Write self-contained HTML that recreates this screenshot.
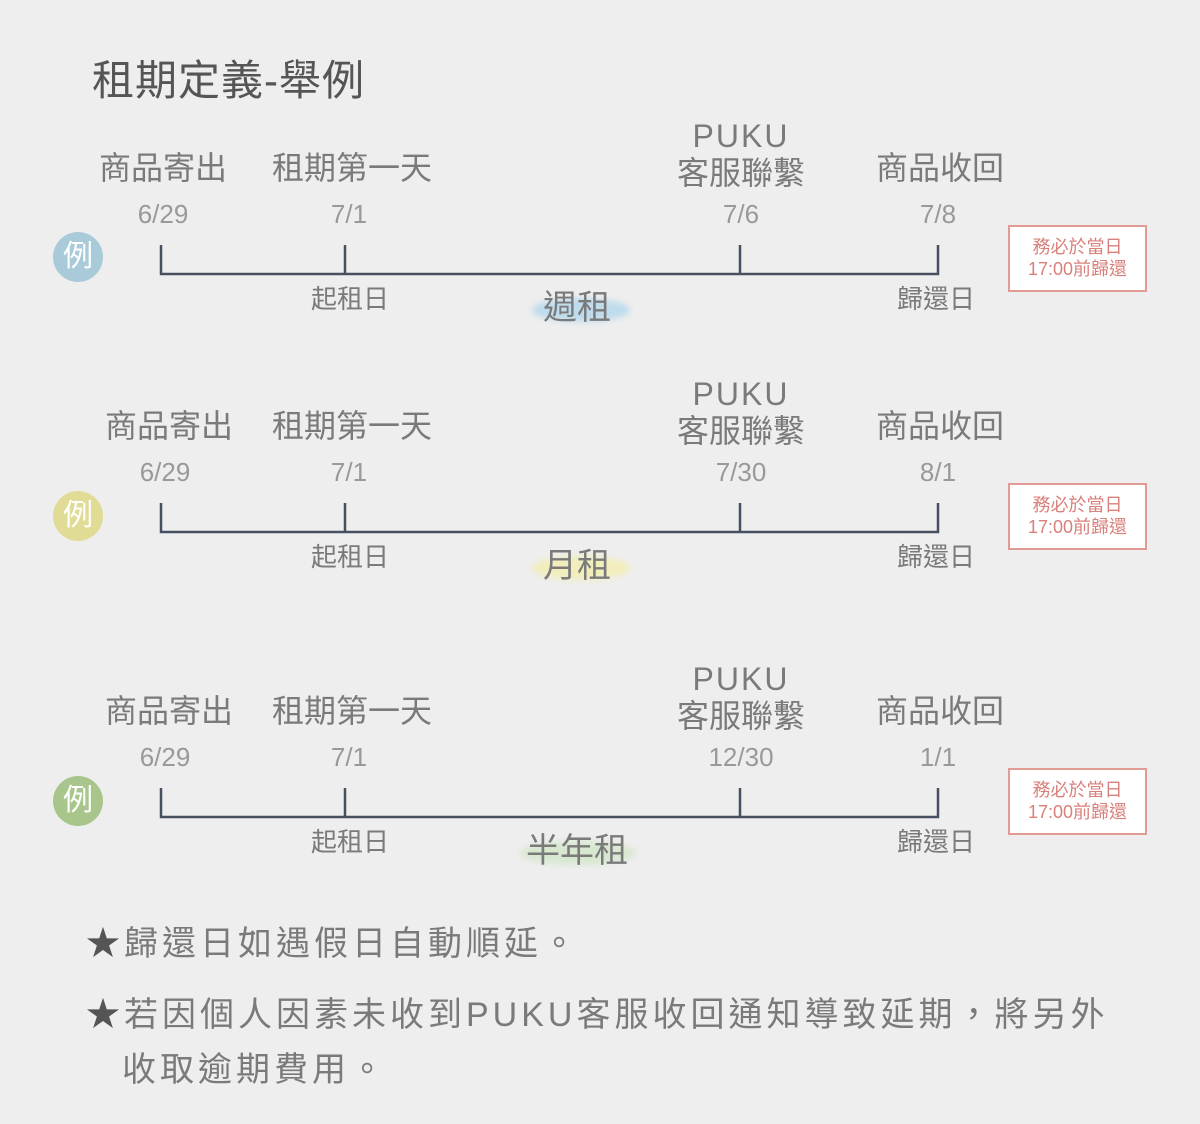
<!DOCTYPE html>
<html><head><meta charset="utf-8"><style>
body{margin:0;width:1200px;height:1124px;background:#eeeeee;position:relative;overflow:hidden;font-family:"Liberation Sans","Noto Sans CJK TC",sans-serif;color:#7a7a7a}
.t{position:absolute;white-space:nowrap;transform:translate(-50%,-50%);line-height:1}
.l{position:absolute;white-space:nowrap;line-height:1}
.c{position:absolute;width:50px;height:50px;border-radius:50%;color:#fff;font-size:30px;line-height:50px;text-align:center}
.box{position:absolute;left:1008px;width:135px;height:63px;border:2px solid #e29a95;background:#fff;color:#d9807b;font-size:18px;text-align:center;line-height:22px;box-sizing:content-box}
.box div{padding-top:9px}
.bl{position:absolute;border-radius:50%;filter:blur(3px)}
</style></head><body>
<div class="l" style="left:92px;top:60px;font-size:42px;color:#555;letter-spacing:1px">租期定義-舉例</div>

<svg width="1200" height="1124" style="position:absolute;left:0;top:0">
<g stroke="#475060" stroke-width="2.5" fill="none">
<path d="M161 245V274H938V245M345 245V274M740 245V274"/>
<path d="M161 503V532H938V503M345 503V532M740 503V532"/>
<path d="M161 788V817H938V788M345 788V817M740 788V817"/>
</g></svg>

<div class="bl" style="left:532px;top:298px;width:98px;height:24px;background:#bfdcec"></div>
<div class="bl" style="left:532px;top:556px;width:98px;height:24px;background:#f1eebc"></div>
<div class="bl" style="left:520px;top:841px;width:115px;height:24px;background:#d8e8d0"></div>

<div class="c" style="left:53px;top:232px;background:#a9cad8">例</div>
<div class="c" style="left:53px;top:491px;background:#e0dc96">例</div>
<div class="c" style="left:53px;top:776px;background:#a8c58c">例</div>

<!-- block 1 -->
<div class="t" style="left:163px;top:168px;font-size:32px">商品寄出</div>
<div class="t" style="left:352px;top:168px;font-size:32px">租期第一天</div>
<div class="t" style="left:741px;top:136px;font-size:32px;letter-spacing:2px">PUKU</div>
<div class="t" style="left:741px;top:173px;font-size:32px">客服聯繫</div>
<div class="t" style="left:940px;top:168px;font-size:32px">商品收回</div>
<div class="t" style="left:163px;top:214px;font-size:26px;color:#999">6/29</div>
<div class="t" style="left:349px;top:214px;font-size:26px;color:#999">7/1</div>
<div class="t" style="left:741px;top:214px;font-size:26px;color:#999">7/6</div>
<div class="t" style="left:938px;top:214px;font-size:26px;color:#999">7/8</div>
<div class="t" style="left:350px;top:299px;font-size:26px">起租日</div>
<div class="t" style="left:936px;top:299px;font-size:26px">歸還日</div>
<div class="t" style="left:577px;top:308px;font-size:34px">週租</div>
<div class="box" style="top:225px"><div>務必於當日<br>17:00前歸還</div></div>

<!-- block 2 -->
<div class="t" style="left:169px;top:426px;font-size:32px">商品寄出</div>
<div class="t" style="left:352px;top:426px;font-size:32px">租期第一天</div>
<div class="t" style="left:741px;top:394px;font-size:32px;letter-spacing:2px">PUKU</div>
<div class="t" style="left:741px;top:431px;font-size:32px">客服聯繫</div>
<div class="t" style="left:940px;top:426px;font-size:32px">商品收回</div>
<div class="t" style="left:165px;top:472px;font-size:26px;color:#999">6/29</div>
<div class="t" style="left:349px;top:472px;font-size:26px;color:#999">7/1</div>
<div class="t" style="left:741px;top:472px;font-size:26px;color:#999">7/30</div>
<div class="t" style="left:938px;top:472px;font-size:26px;color:#999">8/1</div>
<div class="t" style="left:350px;top:557px;font-size:26px">起租日</div>
<div class="t" style="left:936px;top:557px;font-size:26px">歸還日</div>
<div class="t" style="left:577px;top:566px;font-size:34px">月租</div>
<div class="box" style="top:483px"><div>務必於當日<br>17:00前歸還</div></div>

<!-- block 3 -->
<div class="t" style="left:169px;top:711px;font-size:32px">商品寄出</div>
<div class="t" style="left:352px;top:711px;font-size:32px">租期第一天</div>
<div class="t" style="left:741px;top:679px;font-size:32px;letter-spacing:2px">PUKU</div>
<div class="t" style="left:741px;top:716px;font-size:32px">客服聯繫</div>
<div class="t" style="left:940px;top:711px;font-size:32px">商品收回</div>
<div class="t" style="left:165px;top:757px;font-size:26px;color:#999">6/29</div>
<div class="t" style="left:349px;top:757px;font-size:26px;color:#999">7/1</div>
<div class="t" style="left:741px;top:757px;font-size:26px;color:#999">12/30</div>
<div class="t" style="left:938px;top:757px;font-size:26px;color:#999">1/1</div>
<div class="t" style="left:350px;top:842px;font-size:26px">起租日</div>
<div class="t" style="left:936px;top:842px;font-size:26px">歸還日</div>
<div class="t" style="left:577px;top:851px;font-size:34px">半年租</div>
<div class="box" style="top:768px"><div>務必於當日<br>17:00前歸還</div></div>

<div class="l" style="left:86px;top:927px;font-size:34px;letter-spacing:4px"><span style="color:#555">★</span>歸還日如遇假日自動順延。</div>
<div class="l" style="left:86px;top:998px;font-size:34px;letter-spacing:4px"><span style="color:#555">★</span>若因個人因素未收到PUKU客服收回通知導致延期，將另外</div>
<div class="l" style="left:122px;top:1053px;font-size:34px;letter-spacing:4px">收取逾期費用。</div>
</body></html>
